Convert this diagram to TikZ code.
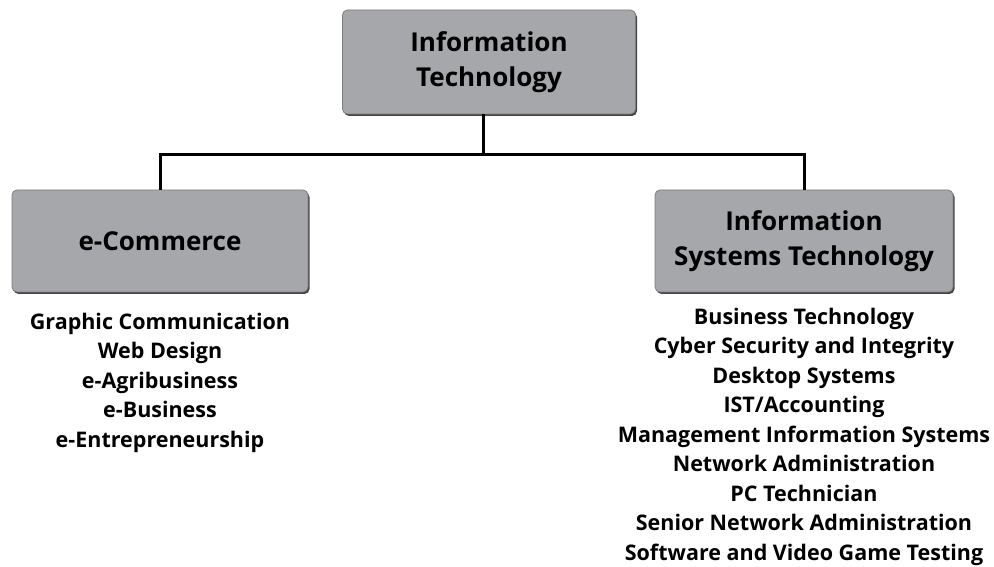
\documentclass[tikz,border=0pt]{standalone}
\usepackage{fontspec}
\setmainfont{Open Sans}
\usepackage{tikz}
\usetikzlibrary{shadows,positioning}
\definecolor{boxgray}{RGB}{165,167,170}
\definecolor{edgegray}{RGB}{70,70,72}

\begin{document}
\begin{tikzpicture}[x=1pt,y=1pt,line width=3pt]
        \tikzstyle{area}=[draw=edgegray!70, line width=0.8pt, fill=boxgray,
          rounded corners=5pt, minimum height=102pt, align=center,
          font=\fontsize{26}{35}\selectfont\bfseries,
          drop shadow={shadow xshift=1.5pt, shadow yshift=-2pt, fill=edgegray, opacity=1}]
        \tikzstyle{course}=[align=center, inner sep=0pt,
          font=\fontsize{21.5}{29.5}\selectfont\bfseries]

        \useasboundingbox (0,0) rectangle (994,567);

        \node[area, minimum width=293pt, minimum height=104pt] (IT) at (489,505) {Information\\Technology};
        \node[area, minimum width=296pt] (EC) at (160,326) {e-Commerce};
        \node[area, minimum width=298pt] (IST) at (804,326) {Information\\Systems Technology};

        \node[course, below=19pt of EC] (ECList) {Graphic Communication\\Web Design\\e-Agribusiness\\e-Business\\e-Entrepreneurship};
        \node[course, below=14pt of IST] (ISTList) {Business Technology\\Cyber Security and Integrity\\Desktop Systems\\IST/Accounting\\Management Information Systems\\Network Administration\\PC Technician\\Senior Network Administration\\Software and Video Game Testing};

        \coordinate (hub) at (483,412);
        \draw (IT.south -| hub) -- (hub);
        \draw (EC.north) |- (hub) -| (IST.north);
    \end{tikzpicture}
\end{document}
